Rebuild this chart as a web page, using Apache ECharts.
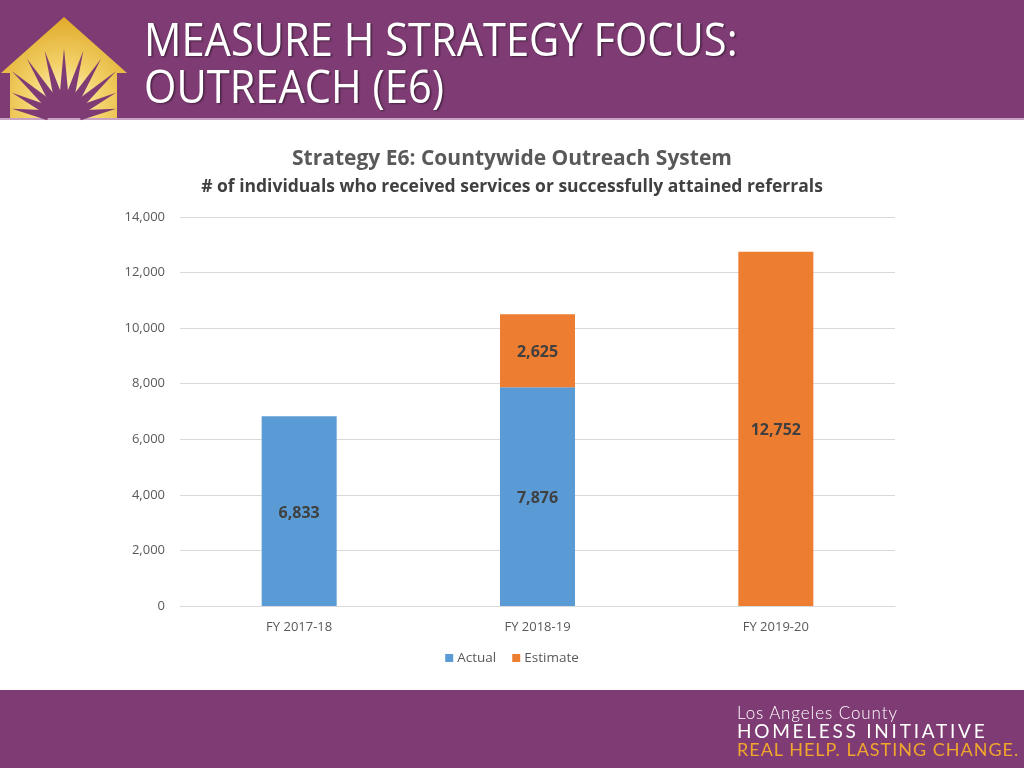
<!DOCTYPE html>
<html><head><meta charset="utf-8">
<script src="https://cdn.jsdelivr.net/npm/echarts@6/dist/echarts.min.js"></script>
<style>
html,body{margin:0;padding:0;background:#fff}
#wrap{position:relative;width:1024px;height:768px}
#c{width:1024px;height:768px}
.brand{position:absolute;left:737px;white-space:nowrap;font-family:Lato,sans-serif;line-height:1}
</style>
</head><body><div id="wrap"><div id="c"></div>
<div class="brand" style="top:704px;font-size:17px;font-weight:300;color:#fff;letter-spacing:0.9px">Los Angeles County</div>
<div class="brand" style="top:721px;font-size:19px;font-weight:400;color:#fff;letter-spacing:2.75px">HOMELESS INITIATIVE</div>
<div class="brand" style="top:740px;font-size:18px;font-weight:400;color:#f0a52c;letter-spacing:1.0px">REAL HELP. LASTING CHANGE.</div>
</div>
<script>
const categories = ['FY 2017-18', 'FY 2018-19', 'FY 2019-20'];
const actual = [6833, 7876, null];
const estimate = [null, 2625, 12752];
const seriesNames = ['Actual', 'Estimate'];
const yTicks = {min: 0, max: 14000, interval: 2000};

const chart = echarts.init(document.getElementById('c'), null, {renderer: 'canvas'});

// logo rays (decoration)
const rays = [];
const cx = 64, cy = 118;
for (let i = 0; i < 11; i++) {
  const a = (-170 + i * 16) * Math.PI / 180;
  const perp = a + Math.PI / 2;
  const s = Math.abs(Math.cos(a));
  const len = Math.min(70, 52 / Math.max(s, 0.01));
  const tip = [cx + Math.cos(a) * len, cy + Math.sin(a) * len];
  const r0 = 16, w = 5;
  const b1 = [cx + Math.cos(a) * r0 + Math.cos(perp) * w, cy + Math.sin(a) * r0 + Math.sin(perp) * w];
  const b2 = [cx + Math.cos(a) * r0 - Math.cos(perp) * w, cy + Math.sin(a) * r0 - Math.sin(perp) * w];
  rays.push({type: 'polygon', shape: {points: [b1, tip, b2]}, style: {fill: '#7f3c74'}});
}

const graphic = [
  {type: 'rect', shape: {x: 0, y: 0, width: 1024, height: 118}, style: {fill: '#7f3c74'}},
  {type: 'rect', shape: {x: 0, y: 118, width: 1024, height: 2}, style: {fill: '#c9a3c3'}},
  {type: 'rect', shape: {x: 0, y: 690, width: 1024, height: 78}, style: {fill: '#7f3c74'}},
  {type: 'polygon', shape: {points: [[64, 17], [127, 73], [117, 73], [117, 118], [10, 118], [10, 73], [1, 73]]},
    style: {fill: {type: 'radial', x: 0.5, y: 0.85, r: 0.85, colorStops: [{offset: 0, color: '#fff8dc'}, {offset: 0.45, color: '#f3d26a'}, {offset: 1, color: '#e0aa2a'}]}}},
  ...rays,
  {type: 'sector', shape: {cx: cx, cy: cy, r0: 0, r: 18, startAngle: Math.PI, endAngle: 2 * Math.PI}, style: {fill: '#7f3c74'}},
  {type: 'text', x: 144, y: 19, scaleX: 0.905, style: {text: 'MEASURE H STRATEGY FOCUS:\nOUTREACH (E6)', font: '46px "Open Sans", sans-serif', fill: '#ffffff', lineHeight: 47, textShadowColor: 'rgba(0,0,0,0.45)', textShadowBlur: 2, textShadowOffsetX: 1.5, textShadowOffsetY: 1.5}}
];

const labelStyle = {show: true, position: 'inside', offset: [0, 2], color: '#404040', fontWeight: 'bold', fontSize: 16, fontFamily: '"Open Sans", sans-serif',
  formatter: p => p.value == null ? '' : p.value.toLocaleString('en-US')};

chart.setOption({
  animation: false,
  textStyle: {fontFamily: '"Open Sans", sans-serif'},
  title: {
    text: 'Strategy E6: Countywide Outreach System',
    subtext: '# of individuals who received services or successfully attained referrals',
    left: 'center', top: 144, itemGap: 8,
    textStyle: {fontSize: 21, fontWeight: 'bold', color: '#595959', fontFamily: '"Open Sans", sans-serif'},
    subtextStyle: {fontSize: 17.5, fontWeight: 'bold', color: '#404040', fontFamily: '"Open Sans", sans-serif'}
  },
  legend: {
    data: seriesNames, bottom: 98, left: 'center', itemWidth: 8, itemHeight: 8, itemGap: 16, icon: 'rect',
    textStyle: {color: '#595959', fontSize: 13.5, padding: [0, 0, 0, -1]}
  },
  grid: {left: 180, right: 129, top: 217, bottom: 162, containLabel: false},
  xAxis: {
    type: 'category', data: categories,
    axisLine: {lineStyle: {color: '#d9d9d9', width: 1}}, axisTick: {show: false},
    axisLabel: {color: '#595959', fontSize: 13, margin: 15}
  },
  yAxis: {
    type: 'value', min: yTicks.min, max: yTicks.max, interval: yTicks.interval,
    axisLine: {show: false}, axisTick: {show: false},
    axisLabel: {color: '#595959', fontSize: 13, margin: 15, formatter: v => v.toLocaleString('en-US')},
    splitLine: {lineStyle: {color: '#d9d9d9', width: 1}}
  },
  series: [
    {name: seriesNames[0], type: 'bar', stack: 'total', data: actual, barWidth: 75, itemStyle: {color: '#5b9bd5'}, label: labelStyle},
    {name: seriesNames[1], type: 'bar', stack: 'total', data: estimate, barWidth: 75, itemStyle: {color: '#ed7d31'}, label: labelStyle}
  ],
  graphic: graphic
});
</script></body></html>
